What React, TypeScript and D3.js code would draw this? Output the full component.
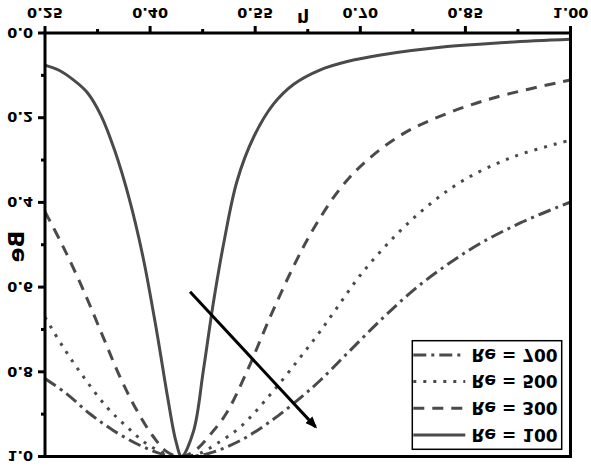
import React from 'react';
import * as d3 from 'd3';

// eta / Be values
const re100Eta = [0.25, 0.27, 0.29, 0.31, 0.33, 0.35, 0.37, 0.39, 0.41, 0.425, 0.437, 0.445, 0.462, 0.476, 0.49, 0.505, 0.524, 0.548, 0.576, 0.605, 0.643, 0.68, 0.729, 0.824, 0.9, 1.0];
const re100Be = [0.076, 0.088, 0.11, 0.14, 0.195, 0.28, 0.39, 0.53, 0.71, 0.86, 0.965, 1.0, 0.94, 0.797, 0.64, 0.497, 0.35, 0.245, 0.168, 0.121, 0.087, 0.068, 0.052, 0.032, 0.023, 0.015];

const re300Eta = [0.25, 0.276, 0.305, 0.333, 0.357, 0.381, 0.405, 0.425, 0.445, 0.465, 0.49, 0.51, 0.538, 0.571, 0.605, 0.633, 0.671, 0.71, 0.762, 0.824, 0.895, 1.0];
const re300Be = [0.422, 0.505, 0.608, 0.718, 0.812, 0.891, 0.954, 0.99, 1.0, 0.985, 0.94, 0.895, 0.8, 0.672, 0.55, 0.463, 0.368, 0.3, 0.237, 0.19, 0.151, 0.111];

const re500Eta = [0.25, 0.276, 0.305, 0.338, 0.367, 0.395, 0.424, 0.445, 0.47, 0.495, 0.529, 0.571, 0.61, 0.638, 0.662, 0.7, 0.748, 0.795, 0.848, 0.919, 1.0];
const re500Be = [0.671, 0.742, 0.812, 0.883, 0.93, 0.97, 0.994, 1.0, 0.993, 0.97, 0.93, 0.855, 0.775, 0.715, 0.66, 0.572, 0.482, 0.41, 0.347, 0.292, 0.253];

const re700Eta = [0.25, 0.281, 0.314, 0.348, 0.386, 0.419, 0.445, 0.481, 0.529, 0.576, 0.614, 0.643, 0.681, 0.729, 0.776, 0.824, 0.871, 0.929, 1.0];
const re700Be = [0.816, 0.852, 0.899, 0.939, 0.974, 0.995, 1.0, 0.994, 0.962, 0.912, 0.862, 0.82, 0.757, 0.678, 0.607, 0.547, 0.497, 0.448, 0.399];

const xTicks = [0.25, 0.4, 0.55, 0.7, 0.85, 1.0];
const xMinor = [0.325, 0.475, 0.625, 0.775, 0.925];
const yTicks = [0, 0.2, 0.4, 0.6, 0.8, 1.0];
const yMinor = [0.1, 0.3, 0.5, 0.7, 0.9];

// arrow: start / end in data units
const arrowFrom = [0.457, 0.611];
const arrowTo = [0.636, 0.93];

const series = [
  { label: 'Re = 100', eta: re100Eta, be: re100Be, dash: null },
  { label: 'Re = 300', eta: re300Eta, be: re300Be, dash: '11 8' },
  { label: 'Re = 500', eta: re500Eta, be: re500Be, dash: '3 7' },
  { label: 'Re = 700', eta: re700Eta, be: re700Be, dash: '13 5 3 5' },
];

const W = 591;
const H = 471;
const left = 45;
const right = 570.5;
const top = 14.5;
const bottom = 438;
const lineColor = '#4a4a4a';
const font = 'DejaVu Sans, sans-serif';

export default function App() {
  const x = d3.scaleLinear().domain([0.25, 1.0]).range([left, right]);
  const y = d3.scaleLinear().domain([0, 1]).range([bottom, top]);

  const curve = d3.line().curve(d3.curveCatmullRom.alpha(0.5));

  const legendX = 412.3;
  const legendY = 21.7;
  const rowGap = 26.7;

  return (
    <svg width={W} height={H} style={{ position: 'absolute', left: 0, top: 0, background: '#fff' }}>
      <defs>
        <marker id="head" viewBox="0 0 10 10" refX="8" refY="5" markerWidth="4" markerHeight="4" orient="auto">
          <path d="M0,1 L10,5 L0,9 Z" fill="#000" />
        </marker>
        <clipPath id="plot">
          <rect x={left} y={top - 2} width={right - left} height={bottom - top + 2} />
        </clipPath>
      </defs>
      {/* the whole picture is mirrored top to bottom */}
      <g transform={`translate(0,${H}) scale(1,-1)`}>
        <g clipPath="url(#plot)">
          {series.map((s) => {
            const pts = s.eta.map((e, i) => [x(e), y(s.be[i])] as [number, number]);
            return (
              <path
                key={s.label}
                d={curve(pts)!}
                fill="none"
                stroke={lineColor}
                strokeWidth={3}
                strokeDasharray={s.dash ?? undefined}
              />
            );
          })}
        </g>

        <line
          x1={x(arrowFrom[0])}
          y1={y(arrowFrom[1])}
          x2={x(arrowTo[0])}
          y2={y(arrowTo[1])}
          stroke="#000"
          strokeWidth={3}
          markerEnd="url(#head)"
        />

        {/* frame */}
        <rect x={left} y={top} width={right - left} height={bottom - top} fill="none" stroke="#000" strokeWidth={3} />

        {/* x axis */}
        {xTicks.map((t) => (
          <g key={'x' + t}>
            <line x1={x(t)} x2={x(t)} y1={bottom} y2={bottom + 7} stroke="#000" strokeWidth={3} />
            <text x={x(t)} y={463} textAnchor="middle" fontFamily={font} fontWeight="bold" fontSize={14.5}>
              {t.toFixed(2)}
            </text>
          </g>
        ))}
        {xMinor.map((t) => (
          <line key={'xm' + t} x1={x(t)} x2={x(t)} y1={bottom} y2={bottom + 4} stroke="#000" strokeWidth={3} />
        ))}
        <text x={303} y={458} textAnchor="middle" fontFamily={font} fontWeight="bold" fontSize={17}>
          η
        </text>

        {/* y axis */}
        {yTicks.map((t) => (
          <g key={'y' + t}>
            <line x1={left - 7} x2={left} y1={y(t)} y2={y(t)} stroke="#000" strokeWidth={3} />
            <text x={33} y={y(t)} dy="0.36em" textAnchor="end" fontFamily={font} fontWeight="bold" fontSize={14.5}>
              {t.toFixed(1)}
            </text>
          </g>
        ))}
        {yMinor.map((t) => (
          <line key={'ym' + t} x1={left - 4} x2={left} y1={y(t)} y2={y(t)} stroke="#000" strokeWidth={3} />
        ))}
        <text
          transform={`translate(16.5,${H - 246.5}) rotate(-90)`}
          dy="0.36em"
          textAnchor="middle"
          fontFamily={font}
          fontWeight="bold"
          fontSize={22}
        >
          Be
        </text>

        {/* legend */}
        <rect x={legendX} y={legendY} width={149.4} height={108.6} fill="#fff" stroke="#000" strokeWidth={1.5} />
        {series.map((s, i) => {
          const ry = legendY + 14.3 + i * rowGap;
          return (
            <g key={'lg' + s.label}>
              <line
                x1={legendX + 1}
                x2={legendX + 53}
                y1={ry}
                y2={ry}
                stroke={lineColor}
                strokeWidth={3}
                strokeDasharray={s.dash ?? undefined}
              />
              <text x={471.5} y={ry} dy="0.36em" fontFamily={font} fontWeight="bold" fontSize={17}>
                {s.label}
              </text>
            </g>
          );
        })}
      </g>
    </svg>
  );
}
